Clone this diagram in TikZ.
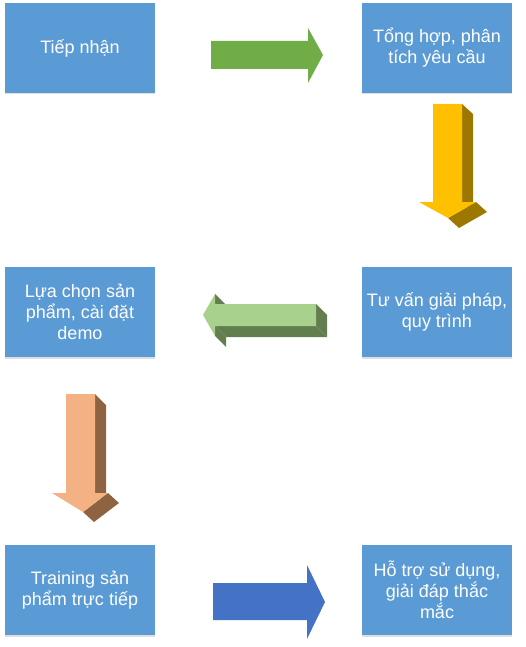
\documentclass[tikz,border=0pt]{standalone}
\usepackage{fontspec}
\setmainfont{Liberation Sans}
\usepackage{xcolor}
\usepackage{tikz}
\usetikzlibrary{positioning,calc,shadows}

\definecolor{boxblue}{HTML}{5B9BD5}
\definecolor{arrowgreen}{HTML}{70AD47}
\definecolor{arrowblue}{HTML}{4472C4}
\definecolor{goldfront}{HTML}{FFC000}
\definecolor{goldside}{HTML}{9C7800}
\definecolor{leaffront}{HTML}{A9D18E}
\definecolor{leafside}{HTML}{627D4E}
\definecolor{peachfront}{HTML}{F4B183}
\definecolor{peachside}{HTML}{8E6341}

\begin{document}
\begin{tikzpicture}[x=1pt, y=-1pt,
  stage/.style={fill=boxblue, text=white, minimum width=150pt, minimum height=90pt,
    inner sep=0pt, align=center, font=\fontsize{18}{21}\selectfont,
    drop shadow={shadow xshift=0pt, shadow yshift=-1.5pt, opacity=0.25}}]
\useasboundingbox (0,0) rectangle (526,647);

\node[stage] (recv) at (80,48) {Tiếp nhận};
\node[stage] (analyze) at (437,48) {Tổng hợp, phân\\tích yêu cầu};
\node[stage] (consult) at (437,312) {Tư vấn giải pháp,\\quy trình};
\node[stage] (select) at (80,312) {Lựa chọn sản\\phẩm, cài đặt\\demo};
\node[stage] (train) at (80,590) {Training sản\\phẩm trực tiếp};
\node[stage] (support) at (437,590) {Hỗ trợ sử dụng,\\giải đáp thắc\\mắc};

% recv -> analyze
\begin{scope}[shift={($(recv.east)!0.5!(analyze.west)$)}]
  \fill[arrowgreen] (-47.5,-7) -- (49.5,-7) -- (49.5,-20) -- (64.5,7) -- (49.5,35) -- (49.5,21) -- (-47.5,21) -- cycle;
\end{scope}

% analyze -> consult
\begin{scope}[shift={($(analyze.south)!0.5!(consult.north)$)}]
  \fill[goldside] (25,-76) -- (36,-66) -- (36,32) -- (25,22) -- cycle;
  \fill[goldside] (39,22) -- (50,32) -- (22,48) -- (11,38) -- cycle;
  \fill[goldfront] (-4,-76) -- (25,-76) -- (25,22) -- (39,22) -- (11,38) -- (-18,22) -- (-4,22) -- cycle;
\end{scope}

% consult -> select
\begin{scope}[shift={($(consult.west)!0.5!(select.east)$)}]
  \fill[leafside] (57.5,-8) -- (68.5,3) -- (68.5,25) -- (57.5,14) -- cycle;
  \fill[leafside] (-43.5,14) -- (57.5,14) -- (68.5,25) -- (-32.5,25) -- cycle;
  \fill[leafside] (-43.5,14) -- (-32.5,25) -- (-32.5,35) -- (-43.5,24) -- cycle;
  \fill[leafside] (-43.5,-18) -- (-32.5,-7) -- (-32.5,3) -- (-43.5,-8) -- cycle;
  \fill[leaffront] (-55.5,3) -- (-43.5,-18) -- (-43.5,-8) -- (57.5,-8) -- (57.5,14) -- (-43.5,14) -- (-43.5,24) -- cycle;
\end{scope}

% select -> train
\begin{scope}[shift={($(select.south)!0.5!(train.north)$)}]
  \fill[peachside] (15,-57) -- (26,-46) -- (26,52) -- (15,42) -- cycle;
  \fill[peachside] (28,42) -- (39,52) -- (14,71) -- (3,61) -- cycle;
  \fill[peachfront] (-14,-57) -- (15,-57) -- (15,42) -- (28,42) -- (3,61) -- (-28,42) -- (-14,42) -- cycle;
\end{scope}

% train -> support
\begin{scope}[shift={($(train.east)!0.5!(support.west)$)}]
  \fill[arrowblue] (-45.5,-7) -- (48.5,-7) -- (48.5,-25) -- (66.5,12) -- (48.5,49) -- (48.5,30) -- (-45.5,30) -- cycle;
\end{scope}

\end{tikzpicture}
\end{document}
